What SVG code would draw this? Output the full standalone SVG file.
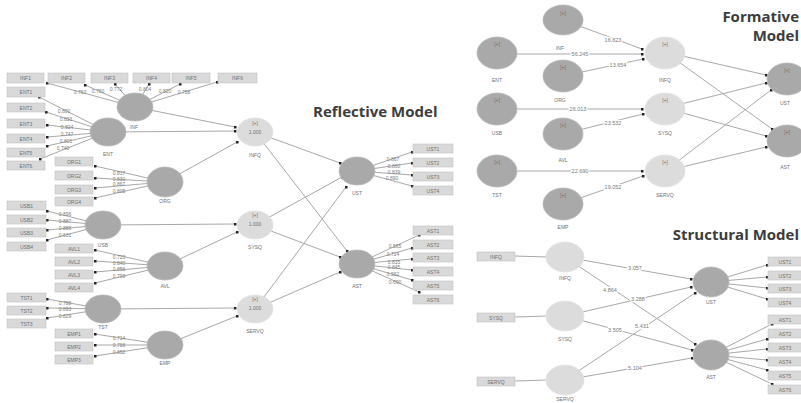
<svg xmlns="http://www.w3.org/2000/svg" width="801" height="403" viewBox="0 0 801 403">
<defs>
<marker id="m" viewBox="0 0 4 4" refX="2" refY="2" markerWidth="3" markerHeight="3" markerUnits="userSpaceOnUse"><rect width="4" height="4" fill="#222"/></marker>
<style>
.dk{fill:#a9a9a9;stroke:#b8b8b8;stroke-width:0.8}
.lt{fill:#dcdcdc;stroke:#e2e2e2;stroke-width:0.8}
.bx{fill:#d9d9d9;stroke:#c2c2c2;stroke-width:0.6}
.t{font-family:"Liberation Sans",Arial,sans-serif;font-size:5px;fill:#707070;text-anchor:middle}
.v{font-family:"Liberation Sans",Arial,sans-serif;font-size:5px;fill:#7a7a7a;text-anchor:middle}
.p{font-family:"Liberation Sans",Arial,sans-serif;font-size:5.5px;fill:#7a7a7a;text-anchor:middle;stroke:#fff;stroke-width:2.5px;paint-order:stroke}
.ttl{font-family:"Open Sans","Liberation Sans",sans-serif;font-weight:bold;font-size:15px;fill:#3c3c3c}
.te{text-anchor:end}
#conn line{stroke:#a8a8a8;stroke-width:1;marker-end:url(#m)}
#conn line.n{marker-end:none}
</style>
</defs>
<rect width="801" height="403" fill="#fff"/>
<g id="conn">
<line x1="135" y1="107" x2="47" y2="83"/><line x1="135" y1="107" x2="85" y2="85"/><line x1="135" y1="107" x2="115" y2="84"/><line x1="135" y1="107" x2="149" y2="84"/><line x1="135" y1="107" x2="180" y2="84"/><line x1="135" y1="107" x2="217" y2="82"/>
<line x1="108" y1="132" x2="39" y2="97"/><line x1="108" y1="132" x2="46" y2="112"/><line x1="108" y1="132" x2="47" y2="125"/><line x1="108" y1="132" x2="47" y2="137"/><line x1="108" y1="132" x2="47" y2="146"/><line x1="108" y1="132" x2="40" y2="159"/>
<line x1="165" y1="182" x2="95" y2="166"/><line x1="165" y1="182" x2="95" y2="178"/><line x1="165" y1="182" x2="95" y2="188"/><line x1="165" y1="182" x2="95" y2="198"/>
<line x1="103" y1="225" x2="47" y2="211"/><line x1="103" y1="225" x2="47" y2="220"/><line x1="103" y1="225" x2="47" y2="230"/><line x1="103" y1="225" x2="47" y2="240"/>
<line x1="165" y1="266" x2="95" y2="250"/><line x1="165" y1="266" x2="95" y2="261"/><line x1="165" y1="266" x2="95" y2="272"/><line x1="165" y1="266" x2="95" y2="283"/>
<line x1="103" y1="309" x2="47" y2="299"/><line x1="103" y1="309" x2="47" y2="308"/><line x1="103" y1="309" x2="47" y2="318"/>
<line x1="165" y1="345" x2="95" y2="334"/><line x1="165" y1="345" x2="95" y2="345"/><line x1="165" y1="345" x2="95" y2="356"/>
<line x1="357" y1="171" x2="412" y2="152"/><line x1="357" y1="171" x2="412" y2="163"/><line x1="357" y1="171" x2="412" y2="175"/><line x1="357" y1="171" x2="412" y2="186"/>
<line x1="357" y1="264" x2="419" y2="235"/><line x1="357" y1="264" x2="412" y2="248"/><line x1="357" y1="264" x2="412" y2="259"/><line x1="357" y1="264" x2="412" y2="270"/><line x1="357" y1="264" x2="412" y2="280"/><line x1="357" y1="264" x2="419" y2="292"/>
<line x1="135" y1="107" x2="235" y2="127"/><line x1="108" y1="132" x2="235" y2="131"/><line x1="165" y1="182" x2="237" y2="142"/>
<line x1="103" y1="225" x2="235" y2="224"/><line x1="165" y1="266" x2="237" y2="232"/>
<line x1="103" y1="309" x2="235" y2="308"/><line x1="165" y1="345" x2="237" y2="316"/>
<line x1="255" y1="132" x2="340" y2="163"/><line x1="255" y1="132" x2="347" y2="251"/>
<line x1="255" y1="225" x2="342" y2="177"/><line x1="255" y1="225" x2="340" y2="257"/>
<line x1="255" y1="309" x2="346" y2="187"/><line x1="255" y1="309" x2="340" y2="272"/>
<line x1="563" y1="20" x2="642" y2="49"/><line x1="497" y1="54" x2="642" y2="54"/><line x1="563" y1="76" x2="643" y2="59"/>
<line x1="497" y1="109" x2="642" y2="109"/><line x1="563" y1="134" x2="643" y2="114"/>
<line x1="497" y1="171" x2="642" y2="171"/><line x1="563" y1="204" x2="643" y2="176"/>
<line x1="665" y1="52" x2="766" y2="75"/><line x1="665" y1="52" x2="772" y2="129"/>
<line x1="665" y1="108" x2="766" y2="83"/><line x1="665" y1="108" x2="766" y2="136"/>
<line x1="665" y1="171" x2="771" y2="90"/><line x1="665" y1="171" x2="766" y2="147"/>
<line class="n" x1="515" y1="256" x2="547" y2="257"/><line class="n" x1="515" y1="317" x2="547" y2="316"/><line class="n" x1="515" y1="381" x2="547" y2="380"/>
<line x1="565" y1="257" x2="691" y2="279"/><line x1="565" y1="257" x2="695" y2="344"/>
<line x1="565" y1="316" x2="691" y2="287"/><line x1="565" y1="316" x2="692" y2="350"/>
<line x1="565" y1="380" x2="695" y2="293"/><line x1="565" y1="380" x2="692" y2="358"/>
<line x1="711" y1="282" x2="767" y2="265"/><line x1="711" y1="282" x2="767" y2="277"/><line x1="711" y1="282" x2="767" y2="288"/><line x1="711" y1="282" x2="767" y2="299"/>
<line x1="711" y1="355" x2="772" y2="324"/><line x1="711" y1="355" x2="767" y2="339"/><line x1="711" y1="355" x2="767" y2="349"/><line x1="711" y1="355" x2="767" y2="360"/><line x1="711" y1="355" x2="767" y2="370"/><line x1="711" y1="355" x2="772" y2="384"/>
</g>
<g id="loadings">
<text class="v" x="80" y="94">0.763</text><text class="v" x="98" y="93">0.760</text><text class="v" x="116" y="91">0.772</text><text class="v" x="145" y="91">0.804</text><text class="v" x="165" y="93">0.820</text><text class="v" x="184" y="94">0.758</text>
<text class="v" x="64" y="113">0.800</text><text class="v" x="66" y="121">0.833</text><text class="v" x="67" y="129">0.824</text><text class="v" x="67" y="136">0.747</text><text class="v" x="66" y="143">0.801</text><text class="v" x="63" y="150">0.740</text>
<text class="v" x="119" y="175">0.817</text><text class="v" x="119" y="181">0.830</text><text class="v" x="119" y="186">0.867</text><text class="v" x="119" y="193">0.805</text>
<text class="v" x="65" y="216">0.896</text><text class="v" x="65" y="223">0.887</text><text class="v" x="65" y="230">0.886</text><text class="v" x="65" y="237">0.631</text>
<text class="v" x="119" y="259">0.723</text><text class="v" x="119" y="265">0.840</text><text class="v" x="119" y="271">0.856</text><text class="v" x="119" y="278">0.799</text>
<text class="v" x="65" y="305">0.788</text><text class="v" x="65" y="311">0.893</text><text class="v" x="65" y="318">0.829</text>
<text class="v" x="119" y="340">0.714</text><text class="v" x="119" y="347">0.766</text><text class="v" x="119" y="354">0.852</text>
<text class="v" x="393" y="161">0.867</text><text class="v" x="394" y="168">0.860</text><text class="v" x="394" y="174">0.839</text><text class="v" x="392" y="180">0.890</text>
<text class="v" x="395" y="248">0.565</text><text class="v" x="393" y="256">0.724</text><text class="v" x="394" y="264">0.835</text><text class="v" x="394" y="269">0.845</text><text class="v" x="393" y="276">0.562</text><text class="v" x="395" y="284">0.690</text>
</g>
<g id="pathlabels">
<text class="p" x="613" y="42">16.623</text><text class="p" x="580" y="56">56.245</text><text class="p" x="618" y="67">13.654</text>
<text class="p" x="578" y="111">26.013</text><text class="p" x="613" y="125">23.532</text>
<text class="p" x="580" y="173">22.690</text><text class="p" x="613" y="189">19.052</text>
<text class="p" x="635" y="270">3.057</text><text class="p" x="610" y="292">4.864</text><text class="p" x="638" y="301">3.288</text>
<text class="p" x="615" y="332">3.505</text><text class="p" x="642" y="328">5.431</text><text class="p" x="635" y="370">5.104</text>
</g>
<g id="INF-boxes">
<rect class="bx" x="7" y="73" width="37" height="10"/><text class="t" x="25.5" y="80">INF1</text>
<rect class="bx" x="48" y="73" width="37" height="10"/><text class="t" x="66.5" y="80">INF2</text>
<rect class="bx" x="91" y="73" width="37" height="10"/><text class="t" x="109.5" y="80">INF3</text>
<rect class="bx" x="133" y="73" width="37" height="10"/><text class="t" x="151.5" y="80">INF4</text>
<rect class="bx" x="172" y="73" width="38" height="10"/><text class="t" x="191" y="80">INF5</text>
<rect class="bx" x="218" y="73" width="39" height="10"/><text class="t" x="237.5" y="80">INF6</text>
</g>
<g id="ENT-boxes">
<rect class="bx" x="7" y="87" width="38" height="10"/><text class="t" x="26" y="94">ENT1</text>
<rect class="bx" x="7" y="103" width="38" height="9"/><text class="t" x="26" y="109.5">ENT2</text>
<rect class="bx" x="7" y="119" width="38" height="9"/><text class="t" x="26" y="125.5">ENT3</text>
<rect class="bx" x="7" y="134" width="38" height="9"/><text class="t" x="26" y="140.5">ENT4</text>
<rect class="bx" x="7" y="148" width="38" height="9"/><text class="t" x="26" y="154.5">ENT5</text>
<rect class="bx" x="7" y="161" width="38" height="9"/><text class="t" x="26" y="167.5">ENT6</text>
</g>
<g id="ORG-boxes">
<rect class="bx" x="55" y="157" width="38" height="9"/><text class="t" x="74" y="163.5">ORG1</text>
<rect class="bx" x="55" y="171" width="38" height="9"/><text class="t" x="74" y="177.5">ORG2</text>
<rect class="bx" x="55" y="185" width="38" height="9"/><text class="t" x="74" y="191.5">ORG3</text>
<rect class="bx" x="55" y="197" width="38" height="9"/><text class="t" x="74" y="203.5">ORG4</text>
</g>
<g id="USB-boxes">
<rect class="bx" x="7" y="201" width="39" height="9"/><text class="t" x="26.5" y="207.5">USB1</text>
<rect class="bx" x="7" y="215" width="39" height="9"/><text class="t" x="26.5" y="221.5">USB2</text>
<rect class="bx" x="7" y="228" width="39" height="9"/><text class="t" x="26.5" y="234.5">USB3</text>
<rect class="bx" x="7" y="242" width="39" height="9"/><text class="t" x="26.5" y="248.5">USB4</text>
</g>
<g id="AVL-boxes">
<rect class="bx" x="55" y="244" width="38" height="9"/><text class="t" x="74" y="250.5">AVL1</text>
<rect class="bx" x="55" y="257" width="38" height="9"/><text class="t" x="74" y="263.5">AVL2</text>
<rect class="bx" x="55" y="270" width="38" height="9"/><text class="t" x="74" y="276.5">AVL3</text>
<rect class="bx" x="55" y="283" width="38" height="9"/><text class="t" x="74" y="289.5">AVL4</text>
</g>
<g id="TST-boxes">
<rect class="bx" x="7" y="293" width="39" height="9"/><text class="t" x="26.5" y="299.5">TST1</text>
<rect class="bx" x="7" y="306" width="39" height="9"/><text class="t" x="26.5" y="312.5">TST2</text>
<rect class="bx" x="7" y="319" width="39" height="9"/><text class="t" x="26.5" y="325.5">TST3</text>
</g>
<g id="EMP-boxes">
<rect class="bx" x="55" y="329" width="38" height="9"/><text class="t" x="74" y="335.5">EMP1</text>
<rect class="bx" x="55" y="342" width="38" height="9"/><text class="t" x="74" y="348.5">EMP2</text>
<rect class="bx" x="55" y="355" width="38" height="9"/><text class="t" x="74" y="361.5">EMP3</text>
</g>
<g id="UST-boxes">
<rect class="bx" x="413" y="144" width="40" height="9"/><text class="t" x="433" y="150.5">UST1</text>
<rect class="bx" x="413" y="158" width="40" height="9"/><text class="t" x="433" y="164.5">UST2</text>
<rect class="bx" x="413" y="172" width="40" height="9"/><text class="t" x="433" y="178.5">UST3</text>
<rect class="bx" x="413" y="186" width="40" height="9"/><text class="t" x="433" y="192.5">UST4</text>
</g>
<g id="AST-boxes">
<rect class="bx" x="413" y="226" width="40" height="9"/><text class="t" x="433" y="232.5">AST1</text>
<rect class="bx" x="413" y="240" width="40" height="9"/><text class="t" x="433" y="246.5">AST2</text>
<rect class="bx" x="413" y="253" width="40" height="9"/><text class="t" x="433" y="259.5">AST3</text>
<rect class="bx" x="413" y="267" width="40" height="9"/><text class="t" x="433" y="273.5">AST4</text>
<rect class="bx" x="413" y="281" width="40" height="9"/><text class="t" x="433" y="287.5">AST5</text>
<rect class="bx" x="413" y="295" width="40" height="9"/><text class="t" x="433" y="301.5">AST6</text>
</g>
<g id="r-INF"><ellipse class="dk" cx="135" cy="107" rx="18" ry="14"/><text class="t" x="134" y="129">INF</text></g>
<g id="r-ENT"><ellipse class="dk" cx="108" cy="132" rx="18" ry="14"/><text class="t" x="108" y="156">ENT</text></g>
<g id="r-ORG"><ellipse class="dk" cx="165" cy="182" rx="18" ry="15"/><text class="t" x="165" y="203">ORG</text></g>
<g id="r-USB"><ellipse class="dk" cx="103" cy="225" rx="18" ry="14"/><text class="t" x="103" y="247">USB</text></g>
<g id="r-AVL"><ellipse class="dk" cx="165" cy="266" rx="18" ry="14"/><text class="t" x="165" y="288">AVL</text></g>
<g id="r-TST"><ellipse class="dk" cx="103" cy="309" rx="18" ry="14"/><text class="t" x="103" y="329">TST</text></g>
<g id="r-EMP"><ellipse class="dk" cx="165" cy="345" rx="18" ry="14"/><text class="t" x="165" y="365">EMP</text></g>
<g id="r-INFQ"><ellipse class="lt" cx="255" cy="132" rx="18" ry="14"/><text class="t" x="255" y="125">[+]</text><text class="t" x="255" y="134">1.000</text><text class="t" x="255" y="157">INFQ</text></g>
<g id="r-SYSQ"><ellipse class="lt" cx="255" cy="225" rx="18" ry="14"/><text class="t" x="255" y="217">[+]</text><text class="t" x="255" y="226">1.000</text><text class="t" x="255" y="249">SYSQ</text></g>
<g id="r-SERVQ"><ellipse class="lt" cx="255" cy="309" rx="18" ry="14"/><text class="t" x="255" y="301">[+]</text><text class="t" x="255" y="310">1.000</text><text class="t" x="255" y="333">SERVQ</text></g>
<g id="r-UST"><ellipse class="dk" cx="357" cy="171" rx="18" ry="14"/><text class="t" x="357" y="195">UST</text></g>
<g id="r-AST"><ellipse class="dk" cx="357" cy="264" rx="18" ry="14"/><text class="t" x="357" y="288">AST</text></g>
<text class="ttl" x="313" y="117">Reflective Model</text>
<g id="f-INF"><ellipse class="dk" cx="563" cy="20" rx="20" ry="15"/><text class="t" x="563" y="15">[+]</text><text class="t" x="560" y="50">INF</text></g>
<g id="f-ENT"><ellipse class="dk" cx="497" cy="53" rx="20" ry="16"/><text class="t" x="497" y="46">[+]</text><text class="t" x="497" y="82">ENT</text></g>
<g id="f-ORG"><ellipse class="dk" cx="563" cy="76" rx="20" ry="16"/><text class="t" x="563" y="69">[+]</text><text class="t" x="560" y="102">ORG</text></g>
<g id="f-INFQ"><ellipse class="lt" cx="665" cy="53" rx="20" ry="16"/><text class="t" x="665" y="46">[+]</text><text class="t" x="665" y="82">INFQ</text></g>
<g id="f-USB"><ellipse class="dk" cx="497" cy="109" rx="20" ry="16"/><text class="t" x="497" y="102">[+]</text><text class="t" x="497" y="135">USB</text></g>
<g id="f-AVL"><ellipse class="dk" cx="563" cy="134" rx="20" ry="16"/><text class="t" x="563" y="127">[+]</text><text class="t" x="563" y="162">AVL</text></g>
<g id="f-SYSQ"><ellipse class="lt" cx="665" cy="109" rx="20" ry="16"/><text class="t" x="665" y="102">[+]</text><text class="t" x="665" y="135">SYSQ</text></g>
<g id="f-TST"><ellipse class="dk" cx="497" cy="171" rx="20" ry="16"/><text class="t" x="497" y="164">[+]</text><text class="t" x="497" y="197">TST</text></g>
<g id="f-EMP"><ellipse class="dk" cx="563" cy="204" rx="20" ry="16"/><text class="t" x="563" y="197">[+]</text><text class="t" x="563" y="229">EMP</text></g>
<g id="f-SERVQ"><ellipse class="lt" cx="665" cy="171" rx="20" ry="16"/><text class="t" x="665" y="164">[+]</text><text class="t" x="665" y="197">SERVQ</text></g>
<g id="f-UST"><ellipse class="dk" cx="787" cy="79" rx="20" ry="16"/><text class="t" x="787" y="72">[+]</text><text class="t" x="785" y="105">UST</text></g>
<g id="f-AST"><ellipse class="dk" cx="787" cy="141" rx="20" ry="16"/><text class="t" x="787" y="134">[+]</text><text class="t" x="785" y="169">AST</text></g>
<text class="ttl te" x="799" y="22">Formative</text>
<text class="ttl te" x="799" y="41">Model</text>
<g id="s-INFQ-box"><rect class="bx" x="477" y="252" width="38" height="9"/><text class="t" x="496" y="258.5">INFQ</text></g>
<g id="s-SYSQ-box"><rect class="bx" x="477" y="313" width="38" height="9"/><text class="t" x="496" y="319.5">SYSQ</text></g>
<g id="s-SERVQ-box"><rect class="bx" x="477" y="377" width="38" height="9"/><text class="t" x="496" y="383.5">SERVQ</text></g>
<g id="s-INFQ"><ellipse class="lt" cx="565" cy="257" rx="19" ry="15"/><text class="t" x="565" y="280">INFQ</text></g>
<g id="s-SYSQ"><ellipse class="lt" cx="565" cy="316" rx="19" ry="15"/><text class="t" x="565" y="341">SYSQ</text></g>
<g id="s-SERVQ"><ellipse class="lt" cx="565" cy="380" rx="19" ry="15"/><text class="t" x="565" y="401">SERVQ</text></g>
<g id="s-UST"><ellipse class="dk" cx="711" cy="282" rx="18" ry="15"/><text class="t" x="711" y="304">UST</text></g>
<g id="s-AST"><ellipse class="dk" cx="711" cy="355" rx="18" ry="15"/><text class="t" x="711" y="379">AST</text></g>
<g id="s-UST-boxes">
<rect class="bx" x="768" y="257" width="34" height="9"/><text class="t" x="785" y="263.5">UST1</text>
<rect class="bx" x="768" y="271" width="34" height="9"/><text class="t" x="785" y="277.5">UST2</text>
<rect class="bx" x="768" y="284" width="34" height="9"/><text class="t" x="785" y="290.5">UST3</text>
<rect class="bx" x="768" y="298" width="34" height="9"/><text class="t" x="785" y="304.5">UST4</text>
</g>
<g id="s-AST-boxes">
<rect class="bx" x="768" y="315" width="34" height="9"/><text class="t" x="785" y="321.5">AST1</text>
<rect class="bx" x="768" y="329" width="34" height="9"/><text class="t" x="785" y="335.5">AST2</text>
<rect class="bx" x="768" y="343" width="34" height="9"/><text class="t" x="785" y="349.5">AST3</text>
<rect class="bx" x="768" y="357" width="34" height="9"/><text class="t" x="785" y="363.5">AST4</text>
<rect class="bx" x="768" y="371" width="34" height="9"/><text class="t" x="785" y="377.5">AST5</text>
<rect class="bx" x="768" y="385" width="34" height="9"/><text class="t" x="785" y="391.5">AST6</text>
</g>
<text class="ttl te" x="799" y="240">Structural Model</text>
</svg>
